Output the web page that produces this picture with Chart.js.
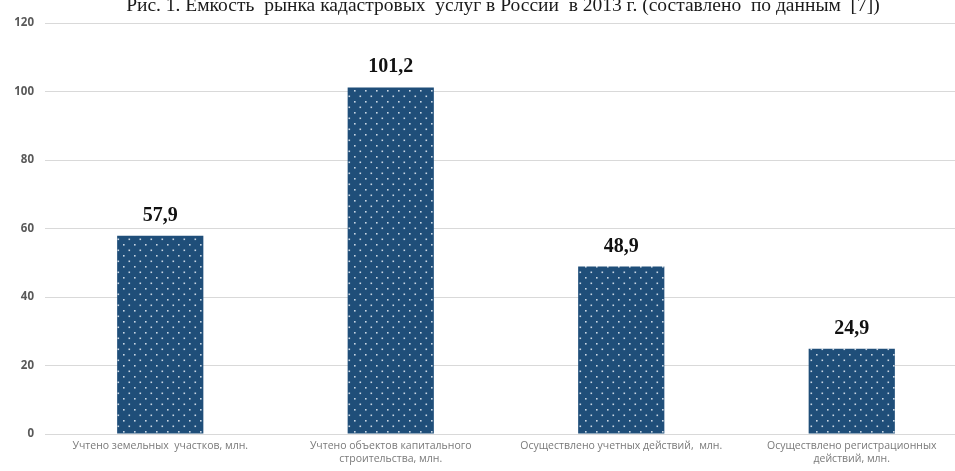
<!DOCTYPE html>
<html>
<head>
<meta charset="utf-8">
<script src="https://cdn.jsdelivr.net/npm/chart.js@4.4.1/dist/chart.umd.min.js"></script>
<style>
html,body{margin:0;padding:0;background:#fff;overflow:hidden;}
#wrap{width:967px;height:471px;position:relative;}
</style>
</head>
<body>
<div id="wrap"><canvas id="c"></canvas></div>
<script>
const titleText = "Рис. 1. Емкость  рынка кадастровых  услуг в России  в 2013 г. (составлено  по данным  [7])";
const categories = [
  "Учтено земельных  участков, млн.",
  ["Учтено объектов капитального", "строительства, млн."],
  "Осуществлено учетных действий,  млн.",
  ["Осуществлено регистрационных", "действий, млн."]
];
const values = [57.9, 101.2, 48.9, 24.9];
const valueLabels = ["57,9", "101,2", "48,9", "24,9"];
const yTicks = [0, 20, 40, 60, 80, 100, 120];

function makePattern() {
  const t = document.createElement('canvas');
  t.width = 11; t.height = 11;
  const g = t.getContext('2d');
  g.fillStyle = '#1f4e79';
  g.fillRect(0, 0, 11, 11);
  g.fillStyle = 'rgba(220,230,240,0.9)';
  g.fillRect(2, 2, 1.6, 1.6);
  g.fillRect(7.5, 7.5, 1.6, 1.6);
  return document.getElementById('c').getContext('2d').createPattern(t, 'repeat');
}

const titlePlugin = {
  id: 'titleP',
  afterDraw(chart) {
    const ctx = chart.ctx;
    ctx.save();
    ctx.font = '19.5px "Liberation Serif", "Times New Roman", serif';
    ctx.fillStyle = '#1a1a1a';
    ctx.textAlign = 'center';
    ctx.textBaseline = 'alphabetic';
    ctx.fillText(titleText, 503, 11);
    ctx.restore();
  }
};

const labelPlugin = {
  id: 'valLabels',
  afterDatasetsDraw(chart) {
    const ctx = chart.ctx;
    const meta = chart.getDatasetMeta(0);
    ctx.save();
    ctx.font = 'bold 20px "Liberation Serif", "Times New Roman", serif';
    ctx.fillStyle = '#111';
    ctx.textAlign = 'center';
    ctx.textBaseline = 'alphabetic';
    meta.data.forEach((bar, i) => {
      ctx.fillText(valueLabels[i], bar.x, bar.y - 15);
    });
    ctx.restore();
  }
};

new Chart(document.getElementById('c'), {
  type: 'bar',
  data: {
    labels: categories,
    datasets: [{
      data: values,
      backgroundColor: makePattern(),
      categoryPercentage: 1,
      barPercentage: 0.374
    }]
  },
  options: {
    responsive: true,
    maintainAspectRatio: false,
    animation: false,
    layout: { padding: { top: 23, right: 0, left: 0, bottom: 0 } },
    plugins: { legend: { display: false }, tooltip: { enabled: false } },
    scales: {
      x: {
        grid: { display: false },
        border: { display: false },
        ticks: {
          color: '#7a7a7a',
          font: { family: '"Open Sans", "DejaVu Sans", sans-serif', size: 10.5, lineHeight: 1.25 },
          padding: -3,
          maxRotation: 0,
          autoSkip: false
        },
        afterFit(scale) { scale.height = 37; }
      },
      y: {
        min: 0, max: 120,
        afterBuildTicks(scale) { scale.ticks = yTicks.map(v => ({ value: v })); },
        grid: { color: '#d9d9d9', drawTicks: false, lineWidth: 1 },
        border: { display: false },
        ticks: {
          color: '#595959',
          font: { family: '"Open Sans", "DejaVu Sans", sans-serif', size: 11.5, weight: 'bold' },
          padding: 11
        },
        afterFit(scale) { scale.width = 45; }
      }
    }
  },
  plugins: [titlePlugin, labelPlugin]
});
</script>
</body>
</html>
